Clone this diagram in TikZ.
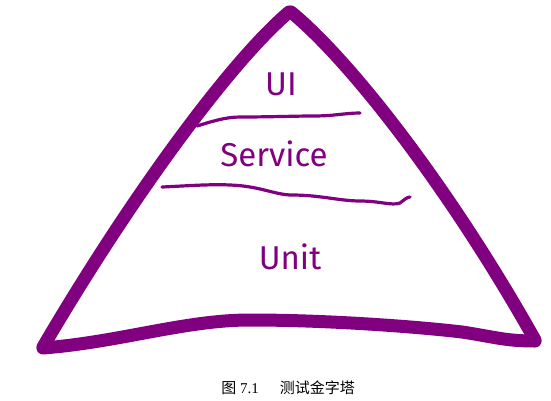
\documentclass[tikz,border=0pt]{standalone}
\usepackage{fontspec}
\newfontfamily\cjk{Noto Sans CJK SC}
\newfontfamily\labelfont{Fira Sans}
\setmainfont{Liberation Serif}
\definecolor{pyr}{RGB}{128,0,128}
\tikzset{
  edge/.style={draw=pyr, line width=13pt, line cap=round, line join=round},
  layerline/.style={draw=pyr, line width=3.2pt, line cap=round, line join=round},
  layerlabel/.style={text=pyr, font=\labelfont\fontsize{33}{33}\selectfont, inner sep=0pt}
}
\begin{document}
\begin{tikzpicture}[x=1pt,y=-1pt]
\useasboundingbox (0,0) rectangle (551,400);
% triangle outline
\path[edge] (289,12) .. controls (228,64) and (128,202) .. (43,347);
\path[edge] (291,12) .. controls (352,62) and (452,192) .. (535,340);
\path[edge] (43,348) .. controls (120,342) and (185,320) .. (250,320)
  .. controls (330,320) and (420,327) .. (462,332)
  .. controls (495,337) and (505,341) .. (535,341);
% layer separators
\path[layerline] (197,126) .. controls (210,122) and (225,117) .. (240,117)
  .. controls (270,117) and (295,116) .. (313,116)
  .. controls (335,116) and (345,113) .. (360,113);
\path[layerline] (162,187) .. controls (185,186) and (210,184) .. (230,185)
  .. controls (260,186) and (275,195) .. (292,195)
  .. controls (320,195) and (340,201) .. (360,201)
  .. controls (380,201) and (392,206) .. (400,203)
  .. controls (404,200) and (407,197) .. (410,197);
% labels
\node[layerlabel] (ui) at (281,84) {UI};
\node[layerlabel] (service) at (274,154) {Service};
\node[layerlabel] (unit) at (290,257) {Unit};
% caption
\node[font=\fontsize{15}{15}\selectfont, inner sep=0pt] (caption) at (288,388)
  {{\cjk 图}\ 7.1\hspace{1.4em}{\cjk 测试金字塔}};
\end{tikzpicture}
\end{document}
